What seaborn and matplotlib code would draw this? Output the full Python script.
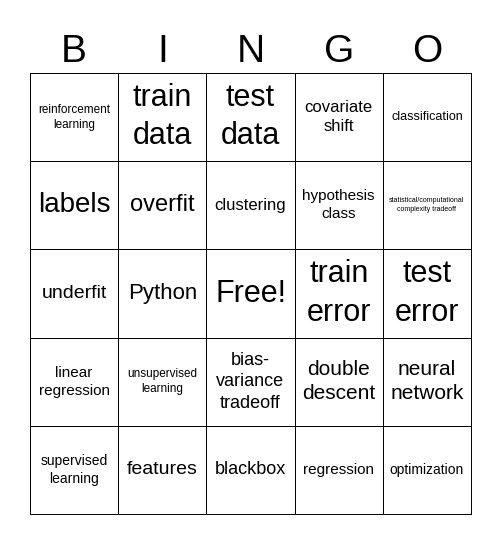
import matplotlib
matplotlib.use("Agg")
import matplotlib.pyplot as plt
import seaborn as sns
import numpy as np

header = ["B", "I", "N", "G", "O"]
cells = [
    ["reinforcement\nlearning", "train\ndata", "test\ndata", "covariate\nshift", "classification"],
    ["labels", "overfit", "clustering", "hypothesis\nclass", "statistical/computational\ncomplexity tradeoff"],
    ["underfit", "Python", "Free!", "train\nerror", "test\nerror"],
    ["linear\nregression", "unsupervised\nlearning", "bias-\nvariance\ntradeoff", "double\ndescent", "neural\nnetwork"],
    ["supervised\nlearning", "features", "blackbox", "regression", "optimization"],
]
sizes = [
    [8.5, 22, 22, 12, 9],
    [20, 17, 12, 11, 5],
    [14, 16, 22, 22, 22],
    [11, 8.5, 13, 15, 15],
    [10, 14, 13, 11, 10],
]

plt.rcParams['font.family'] = ['Liberation Sans', 'DejaVu Sans']
fig = plt.figure(figsize=(5, 5.44), dpi=100)
ax = fig.add_axes([30/500, 30/544, 441/500, 441/544])
sns.heatmap(np.zeros((5, 5)), cmap=["white"], cbar=False, linewidths=0.7,
            linecolor="black", ax=ax, xticklabels=False, yticklabels=False)
for s in ax.spines.values():
    s.set_visible(True); s.set_linewidth(0.7); s.set_color("black")
for r in range(5):
    for c in range(5):
        ax.text(c + 0.5, r + 0.5, cells[r][c], ha="center", va="center",
                fontsize=sizes[r][c], linespacing=1.35)
for c, h in enumerate(header):
    ax.text(c + 0.5, -0.24, h, ha="center", va="center", fontsize=28, clip_on=False)
fig.savefig("out.png", dpi=100)
